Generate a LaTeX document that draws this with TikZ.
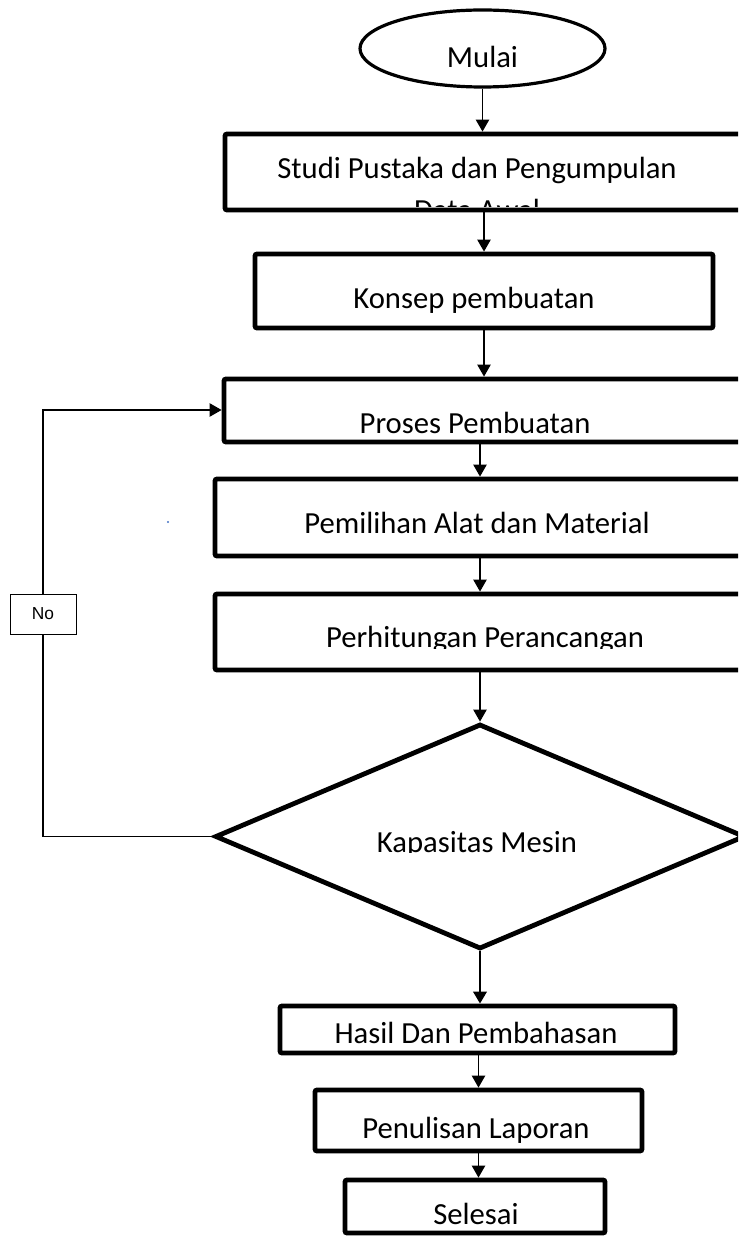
\documentclass[tikz,border=0pt]{standalone}
\usepackage{fontspec}
\setmainfont{Carlito}
\newfontfamily\nofont{Liberation Sans}
\usepackage{tikz}
\usetikzlibrary{arrows.meta, positioning, fit, calc, shapes.geometric}
\definecolor{dotblue}{HTML}{4472C4}

\begin{document}
\begin{tikzpicture}[x=0.75pt, y=-0.75pt,
  box/.style={draw=black, line width=3.6pt, rounded corners=1.5pt, inner sep=0pt},
  txt/.style={font=\fontsize{23}{28}\selectfont, anchor=base, inner sep=0pt},
  arr/.style={-{Triangle[length=9pt, width=10pt]}, line width=1.1pt}]
\clip (0,0) rectangle (738,1237);
\node[ellipse, draw, line width=2.4pt, inner sep=0pt, minimum width=183.75pt, minimum height=57.75pt]
  (mulai) at (482.5,48.5) {};
\node[txt] (mulai-t) at (482.5,68) {Mulai};
\node[box, fit={(225,134) (745,210)}] (studi) {};
\begin{scope}
\clip (225,134) rectangle (745,207);
\node[txt] (studi-t) at (477,179) {Studi Pustaka dan Pengumpulan};
\node[txt] (studi-t2) at (477,221) {Data Awal};
\end{scope}
\node[box, fit={(255,254) (713,328)}] (konsep) {};
\node[txt] (konsep-t) at (474,309) {Konsep pembuatan};
\node[box, fit={(224,379) (750,442)}] (proses) {};
\node[txt] (proses-t) at (475,433) {Proses Pembuatan};
\node[box, fit={(215,479) (750,556)}] (pemilihan) {};
\node[txt] (pemilihan-t) at (477,533) {Pemilihan Alat dan Material};
\node[box, fit={(215,594) (750,670)}] (perhitungan) {};
\begin{scope}
\clip (215,594) rectangle (750,648);
\node[txt] (perhitungan-t) at (485,647.5) {Perhitungan Perancangan};
\end{scope}
\node[diamond, draw, line width=3.6pt, inner sep=0pt, minimum width=397.5pt, minimum height=168.75pt]
  (kapasitas) at (480,836.5) {};
\begin{scope}
\clip (300,780) rectangle (660,852);
\node[txt] (kapasitas-t) at (477,852) {Kapasitas Mesin};
\end{scope}
\node[box, fit={(280,1006) (675,1053)}] (hasil) {};
\node[txt] (hasil-t) at (476,1043) {Hasil Dan Pembahasan};
\node[box, fit={(315,1090) (642,1151)}] (penulisan) {};
\node[txt] (penulisan-t) at (476,1138) {Penulisan Laporan};
\node[box, fit={(345,1180) (605,1233)}] (selesai) {};
\node[txt] (selesai-t) at (476,1224) {Selesai};
\fill[dotblue] (168,522) circle (0.9pt);
\draw[arr] (mulai) -- (mulai |- studi.north);
\draw[arr] (konsep |- studi.south) -- (konsep.north);
\draw[arr] (konsep) -- (konsep |- proses.north);
\draw[arr] (kapasitas |- proses.south) -- (kapasitas |- pemilihan.north);
\draw[arr] (kapasitas |- pemilihan.south) -- (kapasitas |- perhitungan.north);
\draw[arr] (kapasitas |- perhitungan.south) -- (kapasitas.north);
\draw[arr, line width=2pt] (kapasitas.south) -- (kapasitas.south |- hasil.north);
\draw[arr] (penulisan |- hasil.south) -- (penulisan.north);
\draw[arr] (penulisan.south) -- (penulisan.south |- selesai.north);
\coordinate (back) at (43,410);
\draw[arr] (kapasitas.west) -| (back) -- (back -| proses.west);
\node[draw, fill=white, line width=0.75pt, minimum width=49.5pt, minimum height=30pt,
  font=\nofont\fontsize{13}{15}\selectfont] (no) at (43,614) {No};
\end{tikzpicture}
\end{document}
